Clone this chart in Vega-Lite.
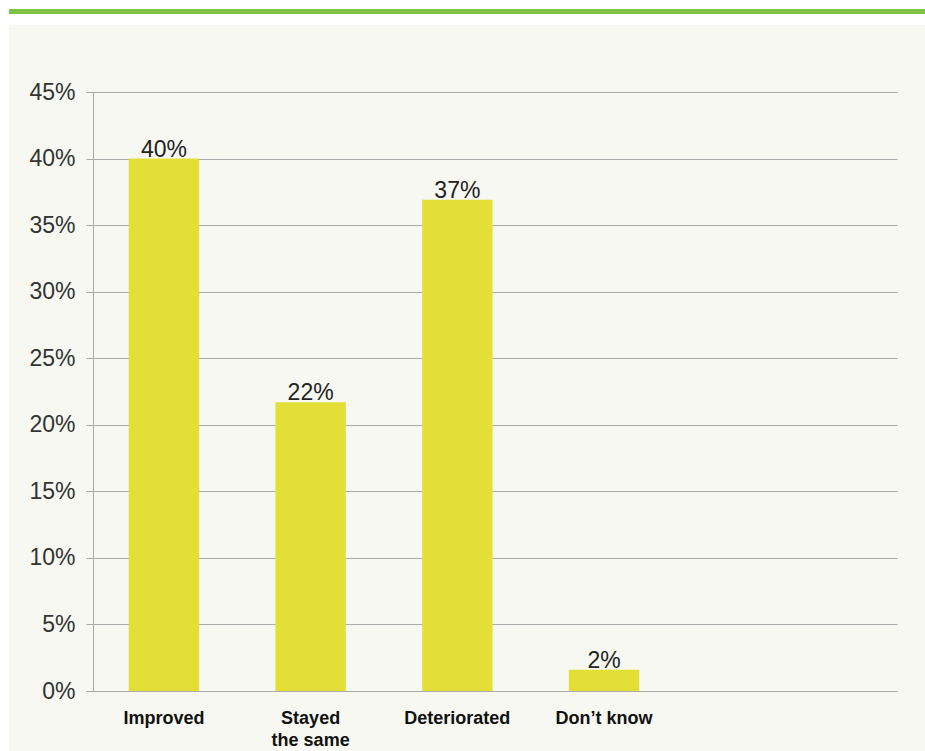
{
  "$schema": "https://vega.github.io/schema/vega-lite/v6.json",
  "background": "#f6f8f1",
  "padding": 0,
  "spacing": 0,
  "config": {
    "view": {"stroke": null},
    "concat": {"spacing": 0},
    "font": "Liberation Sans"
  },
  "hconcat": [
    {
      "width": 9,
      "height": 751,
      "data": {"values": []},
      "mark": "point",
      "encoding": {},
      "view": {"fill": "#ffffff", "stroke": null}
    },
    {
      "spacing": 0,
      "vconcat": [
        {
          "width": 916,
          "height": 9,
          "data": {"values": []},
          "mark": "point",
          "encoding": {},
          "view": {"fill": "#ffffff", "stroke": null}
        },
        {
          "width": 916,
          "height": 5,
          "data": {"values": []},
          "mark": "point",
          "encoding": {},
          "view": {"fill": "#7dc242", "stroke": null}
        },
        {
          "width": 916,
          "height": 11,
          "data": {"values": []},
          "mark": "point",
          "encoding": {},
          "view": {"fill": "#ffffff", "stroke": null}
        },
        {
          "width": 916,
          "height": 56,
          "data": {"values": []},
          "mark": "point",
          "encoding": {},
          "view": {"stroke": null}
        },
        {
          "spacing": 0,
          "hconcat": [
            {
              "width": 19,
              "height": 1,
              "data": {"values": []},
              "mark": "point",
              "encoding": {},
              "view": {"stroke": null}
            },
            {
              "width": 804,
              "height": 599,
              "data": {
                "values": [
                  {"category": "Improved", "share": 0.400},
                  {"category": "Stayed the same", "share": 0.217},
                  {"category": "Deteriorated", "share": 0.369},
                  {"category": "Don’t know", "share": 0.016}
                ]
              },
              "encoding": {
                "x": {
                  "field": "category",
                  "type": "nominal",
                  "sort": null,
                  "scale": {"paddingInner": 0.5205, "paddingOuter": 1.054, "align": 0.1217},
                  "axis": {
                    "title": null,
                    "labelAngle": 0,
                    "domain": false,
                    "ticks": false,
                    "labelPadding": 18,
                    "labelFontSize": 18,
                    "labelFontWeight": "bold",
                    "labelColor": "#111111",
                    "labelLineHeight": 22,
                    "labelExpr": "datum.value == 'Stayed the same' ? ['Stayed', 'the same'] : datum.value"
                  }
                },
                "y": {
                  "field": "share",
                  "type": "quantitative",
                  "scale": {"domain": [0, 0.45], "nice": false},
                  "axis": {
                    "title": null,
                    "values": [0, 0.05, 0.1, 0.15, 0.2, 0.25, 0.3, 0.35, 0.4, 0.45],
                    "format": ".0%",
                    "domainColor": "#ababab",
                    "tickColor": "#ababab",
                    "tickSize": 7,
                    "gridColor": "#ababab",
                    "gridWidth": 1.2,
                    "labelFontSize": 23,
                    "labelColor": "#333333",
                    "labelPadding": 11
                  }
                }
              },
              "layer": [
                {"mark": {"type": "bar", "color": "#e3df37"}},
                {
                  "mark": {"type": "text", "baseline": "alphabetic", "dy": -2, "fontSize": 23, "color": "#222222"},
                  "encoding": {"text": {"field": "share", "type": "quantitative", "format": ".0%"}}
                }
              ]
            }
          ]
        }
      ]
    }
  ]
}
